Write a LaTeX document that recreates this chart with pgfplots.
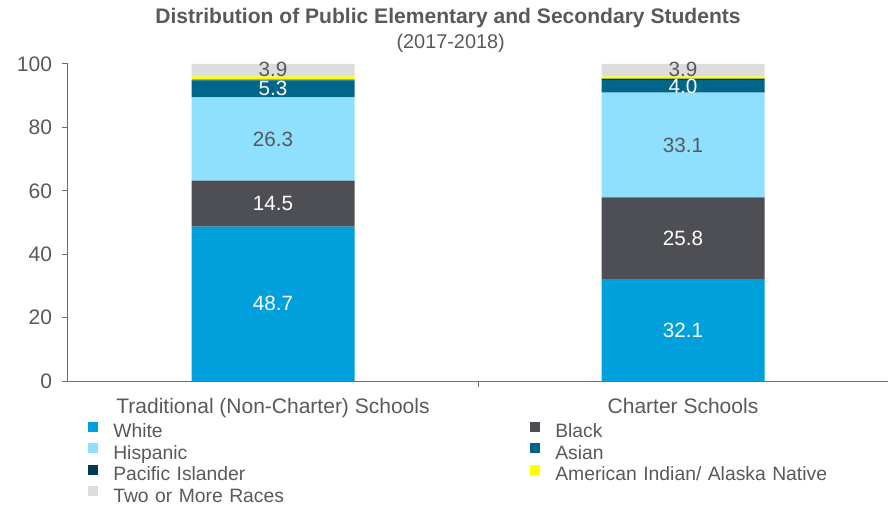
\documentclass[border=0pt]{standalone}
\usepackage{fontspec}
\setmainfont{Liberation Sans}
\usepackage{pgfplots}
\pgfplotsset{compat=1.18}
\definecolor{cWhite}{RGB}{0,160,220}
\definecolor{cBlack}{RGB}{77,79,84}
\definecolor{cHisp}{RGB}{143,223,255}
\definecolor{cAsian}{RGB}{0,102,137}
\definecolor{cPI}{RGB}{0,59,81}
\definecolor{cAI}{RGB}{255,255,0}
\definecolor{cTwo}{RGB}{221,221,221}
\definecolor{txt}{RGB}{89,89,89}
\definecolor{axc}{RGB}{110,110,110}
\pgfplotsset{
  frame/.style={at={(0,0)}, anchor=south west, scale only axis,
    width=615pt, height=237.75pt, xmin=-0.5, xmax=1.5, ymin=0, ymax=100},
  lbl/.style={only marks, mark=none, nodes near coords, point meta=explicit symbolic,
    nodes near coords style={font=\fontsize{15.5}{18}\selectfont, text=#1, anchor=center, inner sep=0pt}},
}
\begin{document}
\begin{tikzpicture}[font=\fontsize{15.75}{18}\selectfont, text=txt]
\useasboundingbox (-51pt,-93.75pt) rectangle (617.25pt,285.75pt);
\begin{axis}[
  frame,
  ybar stacked, bar width=122.25pt,
  axis x line*=bottom, axis y line*=left,
  axis line style={draw=axc, line width=0.75pt, -},
  tick style={draw=axc, line width=0.75pt},
  tick align=outside,
  major tick length=4.5pt,
  ytick={0,20,...,100},
  yticklabel style={text=txt, xshift=-4pt, /pgf/number format/assume math mode=true},
  xtick={0.5}, xticklabels={},
  extra x ticks={0,1},
  extra x tick labels={Traditional (Non-Charter) Schools, Charter Schools},
  extra x tick style={major tick length=0pt, xticklabel style={anchor=base, yshift=-24pt, text=txt}},
  legend columns=2,
  legend cell align=left,
  legend style={at={(0,0)}, anchor=north west, xshift=15pt, yshift=-30.5pt,
    draw=none, fill=none, inner sep=0pt, row sep=0pt,
    font=\fontsize{14.5}{16}\selectfont,
    nodes={text width=300pt, inner xsep=0pt, inner ysep=0pt, text height=10pt, text depth=4.25pt, text=txt},
    /tikz/every odd column/.append style={column sep=11.25pt},
    /tikz/every even column/.append style={column sep=12.75pt}},
  legend image code/.code={\fill[#1,/tikz/.cd] (0pt,1.5pt) rectangle (7.5pt,9pt);},
]
\addplot[fill=cWhite, draw=none] coordinates {(0,48.7) (1,32.1)};
\addlegendentry{White}
\addplot[fill=cBlack, draw=none] coordinates {(0,14.5) (1,25.8)};
\addlegendentry{Black}
\addplot[fill=cHisp, draw=none] coordinates {(0,26.3) (1,33.1)};
\addlegendentry{Hispanic}
\addplot[fill=cAsian, draw=none] coordinates {(0,5.3) (1,4.0)};
\addlegendentry{Asian}
\addplot[fill=cPI, draw=none] coordinates {(0,0.3) (1,0.4)};
\addlegendentry{Pacific Islander}
\addplot[fill=cAI, draw=none] coordinates {(0,1.0) (1,0.7)};
\addlegendentry{American Indian/ Alaska Native}
\addplot[fill=cTwo, draw=none] coordinates {(0,3.9) (1,3.9)};
\addlegendentry{Two or More Races}
\end{axis}
% value labels, centred in each segment
\begin{axis}[frame, hide axis]
\addplot[lbl=white] coordinates {(0,24.35)[48.7] (1,16.05)[32.1]};
\addplot[lbl=white] coordinates {(0,55.95)[14.5] (1,45.0)[25.8]};
\addplot[lbl=txt] coordinates {(0,76.35)[26.3] (1,74.45)[33.1]};
\addplot[lbl=white] coordinates {(0,92.15)[5.3] (1,93.0)[4.0]};
\addplot[lbl=txt] coordinates {(0,98.3)[3.9] (1,98.3)[3.9]};
\end{axis}
\node[anchor=base, font=\bfseries\fontsize{15.8}{18}\selectfont] at (285pt,267.75pt) {Distribution of Public Elementary and Secondary Students};
\node[anchor=base, font=\fontsize{14.9}{16}\selectfont] at (287pt,249pt) {(2017-2018)};
\end{tikzpicture}
\end{document}
